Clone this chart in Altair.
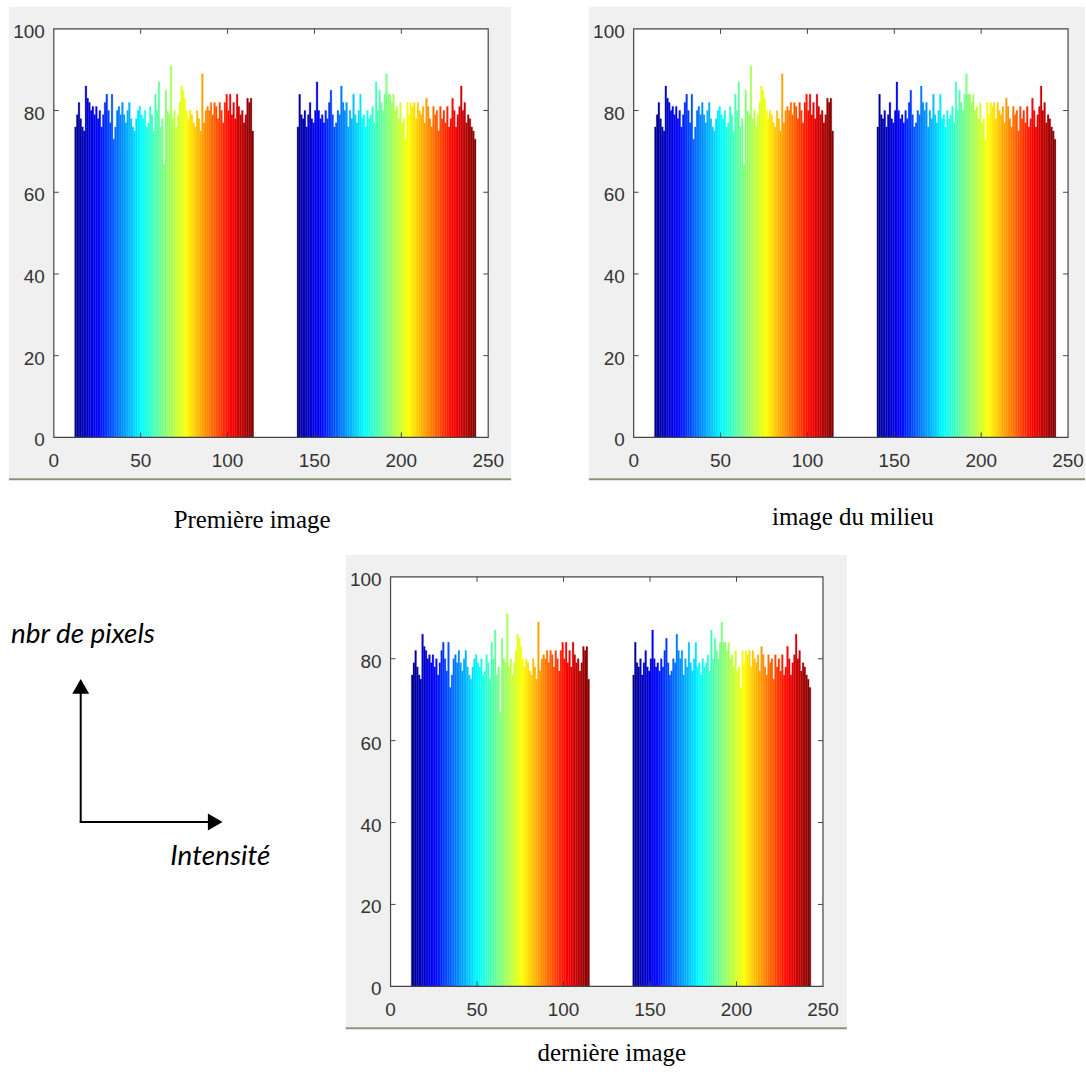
import altair as alt
import pandas as pd

# ---------------- data ----------------
cluster1_start = 12
cluster1_counts = [76, 79, 82, 78, 76, 75, 86, 83, 82, 80, 81, 79, 81, 78, 80, 76, 79, 82, 84, 80,
                   77, 84, 73, 76, 80, 81, 79, 82, 79, 77, 80, 82, 78, 76, 75, 78, 80, 81, 79, 78,
                   80, 76, 77, 81, 79, 75, 84, 80, 87, 76, 78, 67, 85, 80, 79, 91, 78, 80, 76, 79,
                   82, 86, 85, 83, 80, 78, 80, 79, 77, 76, 80, 78, 75, 89, 77, 80, 81, 80, 82, 79,
                   82, 81, 78, 82, 80, 77, 82, 84, 80, 84, 79, 82, 78, 84, 81, 79, 80, 77, 79, 83,
                   82, 83, 75]
cluster2_start = 140
cluster2_counts = [76, 84, 79, 78, 80, 76, 79, 82, 78, 77, 80, 87, 80, 78, 79, 77, 80, 78, 82, 85,
                   79, 76, 77, 80, 79, 86, 82, 80, 82, 76, 80, 78, 84, 79, 77, 80, 84, 78, 79, 76,
                   80, 78, 79, 81, 77, 87, 80, 85, 82, 80, 84, 89, 84, 84, 82, 84, 80, 81, 78, 82,
                   77, 78, 73, 82, 79, 82, 81, 82, 78, 82, 80, 79, 81, 77, 83, 81, 78, 76, 81, 79,
                   80, 75, 81, 78, 80, 77, 81, 76, 78, 83, 80, 76, 79, 81, 86, 80, 82, 77, 79, 78,
                   76, 75, 73]
x_tick_labels = [0, 50, 100, 150, 200, 250]
y_tick_labels = [0, 20, 40, 60, 80, 100]
inner_x_ticks = [50, 100, 150, 200]
inner_y_ticks = [20, 40, 60, 80]
captions = ["Première image", "image du milieu", "dernière image"]
annot_y_label = "nbr de pixels"
annot_x_label = "Intensité"

rows = []
for start, counts in ((cluster1_start, cluster1_counts), (cluster2_start, cluster2_counts)):
    n = len(counts)
    for i, c in enumerate(counts):
        rows.append({"x0": start + i, "x1": start + i + 1, "count": c, "t": i / (n - 1)})
df = pd.DataFrame(rows)

JET_DOMAIN = [0, 0.125, 0.375, 0.625, 0.875, 1]
JET_RANGE = ["#00008f", "#0000ff", "#00ffff", "#ffff00", "#ff0000", "#800000"]
GRAY = "#f0f0f0"
FRAME = "#444444"
LABEL = "#333333"
OLIVE = "#8b9479"


def one():
    return pd.DataFrame({"k": [0]})


def panel(W, H, caption, cap_x, cap_y, right_ext, bottom_ext=None):
    xs = alt.Scale(domain=[0, 250], nice=False, zero=False)
    ys = alt.Scale(domain=[0, 100], nice=False)
    layers = []
    if bottom_ext is not None:
        layers.append(alt.Chart(one()).mark_rect(color="white").encode(
            x=alt.value(0), x2=alt.value(W), y=alt.value(H), y2=alt.value(H + bottom_ext)))
    layers.append(alt.Chart(one()).mark_rect(color=GRAY).encode(
        x=alt.value(-45), x2=alt.value(W + right_ext), y=alt.value(-22), y2=alt.value(H + 42)))
    layers.append(alt.Chart(one()).mark_rule(color=OLIVE, strokeWidth=2).encode(
        x=alt.value(-45), x2=alt.value(W + right_ext), y=alt.value(H + 42)))
    layers.append(alt.Chart(one()).mark_rect(color="white").encode(
        x=alt.value(0), x2=alt.value(W), y=alt.value(0), y2=alt.value(H)))
    jet = alt.Scale(domain=JET_DOMAIN, range=JET_RANGE, interpolate="rgb")
    layers.append(alt.Chart(df).mark_rect(strokeWidth=0.25).encode(
        x=alt.X("x0:Q", scale=xs, axis=None),
        x2="x1:Q",
        y=alt.Y("count:Q", scale=ys, axis=None),
        y2=alt.datum(0),
        fill=alt.Fill("t:Q", scale=jet, legend=None),
        stroke=alt.Stroke("t:Q", scale=jet, legend=None),
    ))
    xt = pd.DataFrame({"v": inner_x_ticks})
    yt = pd.DataFrame({"v": inner_y_ticks})
    layers.append(alt.Chart(xt).mark_rule(color=FRAME).encode(
        x=alt.X("v:Q", scale=xs, axis=None), y=alt.value(H), y2=alt.value(H - 5)))
    layers.append(alt.Chart(xt).mark_rule(color=FRAME).encode(
        x=alt.X("v:Q", scale=xs, axis=None), y=alt.value(0), y2=alt.value(5)))
    layers.append(alt.Chart(yt).mark_rule(color=FRAME).encode(
        y=alt.Y("v:Q", scale=ys, axis=None), x=alt.value(0), x2=alt.value(5)))
    layers.append(alt.Chart(yt).mark_rule(color=FRAME).encode(
        y=alt.Y("v:Q", scale=ys, axis=None), x=alt.value(W - 5), x2=alt.value(W)))
    layers.append(alt.Chart(one()).mark_rect(fill="transparent", stroke=FRAME, strokeWidth=1.2).encode(
        x=alt.value(0), x2=alt.value(W), y=alt.value(0), y2=alt.value(H)))
    # tick labels
    layers.append(alt.Chart(pd.DataFrame({"v": x_tick_labels})).mark_text(
        font="Liberation Sans", fontSize=19, color=LABEL, align="center", baseline="top").encode(
        x=alt.X("v:Q", scale=xs, axis=None), y=alt.value(H + 15), text="v:Q"))
    layers.append(alt.Chart(pd.DataFrame({"v": y_tick_labels})).mark_text(
        font="Liberation Sans", fontSize=19, color=LABEL, align="right", baseline="middle", dy=3).encode(
        y=alt.Y("v:Q", scale=ys, axis=None), x=alt.value(-9), text="v:Q"))
    layers.append(alt.Chart(one()).mark_text(
        text=caption, font="Liberation Serif", fontSize=25, color="black",
        align="center", baseline="middle").encode(x=alt.value(cap_x), y=alt.value(cap_y)))
    return alt.layer(*layers).properties(width=W, height=H)


def annotation(W, H):
    layers = [
        alt.Chart(one()).mark_rect(color="white").encode(
            x=alt.value(0), x2=alt.value(W), y=alt.value(0), y2=alt.value(H)),
        alt.Chart(one()).mark_text(
            text=annot_y_label, font="Lato", fontStyle="italic", fontSize=28, color="black",
            align="left", baseline="middle").encode(x=alt.value(-43), y=alt.value(58)),
        alt.Chart(one()).mark_text(
            text=annot_x_label, font="Lato", fontStyle="italic", fontSize=28, color="black",
            align="left", baseline="middle").encode(x=alt.value(117), y=alt.value(281)),
        alt.Chart(one()).mark_rule(color="black", strokeWidth=2).encode(
            x=alt.value(27), y=alt.value(246), y2=alt.value(114)),
        alt.Chart(one()).mark_rule(color="black", strokeWidth=2).encode(
            x=alt.value(26), x2=alt.value(157), y=alt.value(246)),
        alt.Chart(one()).mark_point(
            shape="triangle-up", filled=True, color="black", opacity=1, size=289).encode(
            x=alt.value(27), y=alt.value(110)),
        alt.Chart(one()).mark_point(
            shape="triangle-right", filled=True, color="black", opacity=1, size=289).encode(
            x=alt.value(162), y=alt.value(246)),
    ]
    return alt.layer(*layers).properties(width=W, height=H)


p1 = panel(436, 410, captions[0], 199, 493, 23, bottom_ext=105)
p2 = panel(436, 410, captions[1], 220, 490, 17)
p3 = panel(434, 411, captions[2], 222, 478, 24)
ann = annotation(280, 411)

chart = alt.vconcat(
    alt.hconcat(p1, p2, spacing=76),
    alt.hconcat(ann, p3, spacing=12),
    spacing=13,
).properties(
    padding={"left": 8, "top": 5, "right": 0, "bottom": 0},
    background="white",
).configure_view(strokeWidth=0)

chart.save("out.html", embed_options={"renderer": "svg", "actions": False})
